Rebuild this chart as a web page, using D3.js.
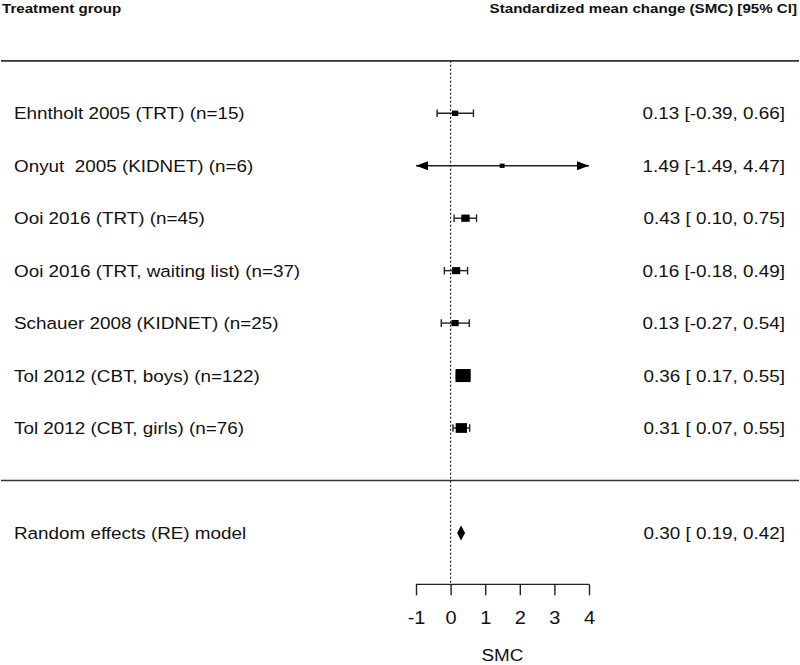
<!DOCTYPE html>
<html>
<head>
<meta charset="utf-8">
<script src="https://cdn.jsdelivr.net/npm/d3@7"></script>
<style>
  body { margin: 0; background: #fff; }
  text { font-family: "Liberation Sans", Arial, sans-serif; fill: #111; }
</style>
</head>
<body>
<svg id="forest" width="800" height="665"></svg>
<script>
const studies = [
  'Ehntholt 2005 (TRT) (n=15)',
  'Onyut  2005 (KIDNET) (n=6)',
  'Ooi 2016 (TRT) (n=45)',
  'Ooi 2016 (TRT, waiting list) (n=37)',
  'Schauer 2008 (KIDNET) (n=25)',
  'Tol 2012 (CBT, boys) (n=122)',
  'Tol 2012 (CBT, girls) (n=76)'
];
const smc   = [0.13, 1.49, 0.43, 0.16, 0.13, 0.36, 0.31];
const ciLow = [-0.39, -1.49, 0.10, -0.18, -0.27, 0.17, 0.07];
const ciHigh = [0.66, 4.47, 0.75, 0.49, 0.54, 0.55, 0.55];
const reModel = {label: 'Random effects (RE) model', est: 0.30, lo: 0.19, hi: 0.42};
const xTicks = [-1, 0, 1, 2, 3, 4];

const svg = d3.select('#forest');
const fmt = v => v.toFixed(2);
const ciText = d => `${fmt(d.est)} [${d.lo < 0 ? '' : ' '}${fmt(d.lo)}, ${fmt(d.hi)}]`;
const SX = 1.11; // text in the picture is a little wider than normal

const x = d3.scaleLinear().domain([-1, 4]).range([416, 589]);
// rows numbered like metafor: k..1 for studies, -1 for the model
const y = d3.scaleLinear().domain([7, -1]).range([113.3, 532.9]);

const rows = studies.map((s, i) => ({
  label: s, est: smc[i], lo: ciLow[i], hi: ciHigh[i], row: studies.length - i,
  w: 1 / Math.pow((ciHigh[i] - ciLow[i]) / 3.92, 2)
}));
const size = d3.scaleLinear()
  .domain(d3.extent(rows, d => d.w))
  .range([4.6, 14]);

function label(sel, tx, ty, str, fs, anchor, bold, sx) {
  return sel.append('text')
    .attr('transform', `translate(${tx},${ty}) scale(${sx || SX},1)`)
    .attr('text-anchor', anchor || 'start')
    .style('font-size', fs + 'px')
    .style('font-weight', bold ? 'bold' : null)
    .style('white-space', 'pre')
    .text(str);
}

// header
label(svg, 2, 13, 'Treatment group', 13.5, 'start', true, 1.12);
label(svg, 797, 13, 'Standardized mean change (SMC) [95% CI]', 13.5, 'end', true, 1.12);

// horizontal separators
[8, 0].forEach(r => {
  svg.append('line')
    .attr('x1', 1).attr('x2', 799)
    .attr('y1', y(r)).attr('y2', y(r))
    .attr('stroke', '#333').attr('stroke-width', 1.6);
});

// reference line at 0
svg.append('line')
  .attr('x1', x(0)).attr('x2', x(0))
  .attr('y1', y(8)).attr('y2', y(-2))
  .attr('stroke', '#222').attr('stroke-width', 1.2)
  .attr('stroke-dasharray', '2,2');

const g = svg.selectAll('g.study')
  .data(rows).enter()
  .append('g').attr('class', 'study');

const lo = d => Math.max(d.lo, x.domain()[0]);
const hi = d => Math.min(d.hi, x.domain()[1]);

g.append('line')
  .attr('x1', d => x(lo(d))).attr('x2', d => x(hi(d)))
  .attr('y1', d => y(d.row)).attr('y2', d => y(d.row))
  .attr('stroke', '#222').attr('stroke-width', 1.4);

// caps or arrows at each end
g.each(function(d) {
  const sel = d3.select(this);
  const yy = y(d.row);
  [[d.lo, lo(d), -1], [d.hi, hi(d), 1]].forEach(([v, c, dir]) => {
    const xx = x(c);
    if (v !== c) {
      sel.append('path')
        .attr('d', `M${xx},${yy} L${xx - dir * 12},${yy - 4.5} L${xx - dir * 12},${yy + 4.5} Z`)
        .attr('fill', '#000');
    } else {
      sel.append('line')
        .attr('x1', xx).attr('x2', xx)
        .attr('y1', yy - 3.8).attr('y2', yy + 3.8)
        .attr('stroke', '#222').attr('stroke-width', 1.4);
    }
  });
  label(sel, 14, yy + 6, d.label, 17);
  label(sel, 785, yy + 6, ciText(d), 17, 'end');
});

g.append('rect')
  .attr('x', d => x(d.est) - size(d.w) * 0.54)
  .attr('y', d => y(d.row) - size(d.w) * 0.465)
  .attr('width', d => size(d.w) * 1.08)
  .attr('height', d => size(d.w) * 0.93)
  .attr('fill', '#000');

// RE model diamond
const yRE = y(-1);
svg.append('path')
  .attr('d', `M${x(reModel.lo)},${yRE} L${x(reModel.est)},${yRE - 7.5} L${x(reModel.hi)},${yRE} L${x(reModel.est)},${yRE + 7.5} Z`)
  .attr('fill', '#000');
label(svg, 14, yRE + 6, reModel.label, 17);
label(svg, 785, yRE + 6, ciText(reModel), 17, 'end');

// x axis
const axis = svg.append('g')
  .attr('transform', `translate(0,${y(-2) - 1})`)
  .call(d3.axisBottom(x).tickValues(xTicks).tickSize(11).tickFormat(() => ''));
axis.select('.domain').attr('stroke', '#222').attr('stroke-width', 1.4)
  .attr('d', `M${x(-1)},0H${x(4)}`);
axis.selectAll('.tick line').attr('stroke', '#222').attr('stroke-width', 1.4);
axis.selectAll('.tick').each(function(d) {
  label(d3.select(this), 0, 40, String(d), 19, 'middle', false, 1.05);
});

label(svg, x(1.5), 661, 'SMC', 17, 'middle');
</script>
</body>
</html>
